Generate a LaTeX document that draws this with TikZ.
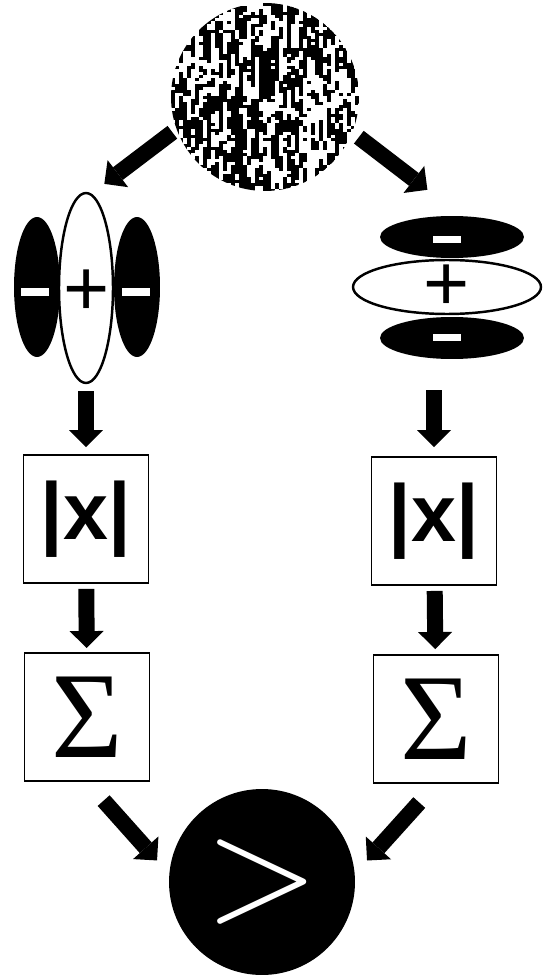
\documentclass[tikz,border=0pt]{standalone}
\usepackage{fontspec}
\newfontfamily\sansfont{Liberation Sans}
\newfontfamily\seriffont{Liberation Serif}
\usetikzlibrary{positioning,shapes.geometric,arrows.meta}

\begin{document}
\begin{tikzpicture}[x=0.02cm, y=-0.02cm,
  fatarrow/.style={line width=0.32cm, -{Triangle[length=0.34cm, width=0.68cm, line width=0pt]}},
  lobe/.style={ellipse, fill=black, inner sep=0pt},
  core/.style={ellipse, draw, line width=1.4pt, fill=white, inner sep=0pt},
  bar/.style={fill=white, inner sep=0pt, minimum width=0.56cm, minimum height=0.16cm},
  plus/.style={inner sep=0pt, font=\sansfont\fontsize{45}{45}\selectfont},
  opbox/.style={draw, line width=1.1pt, minimum width=2.5cm, minimum height=2.56cm, inner sep=0pt}]
\useasboundingbox (0,0) rectangle (543,976);
% source
\node[circle, minimum size=3.76cm, inner sep=0pt] (noise) at (265,97) {};
\begin{scope}
\clip (265,97) circle [radius=94];
\pgfmathsetseed{11}
\xdef\prev{0}
\foreach \i in {0,...,47} {
  \foreach \j in {0,...,63} {
    \ifnum\prev=1 \pgfmathtruncatemacro{\flip}{rnd<0.2}\else\pgfmathtruncatemacro{\flip}{rnd<0.26}\fi
    \ifnum\flip=1 \pgfmathtruncatemacro{\nb}{1-\prev}\xdef\prev{\nb}\fi
    \ifnum\prev=1 \fill (171+4*\i, 3+3*\j) rectangle ++(4,3); \fi
  }
}
\end{scope}
% left filter
\node[lobe, minimum width=0.92cm, minimum height=2.8cm] (lfa) at (37,287) {};
\node[lobe, minimum width=0.92cm, minimum height=2.8cm] (lfb) at (137,287) {};
\node[core, minimum width=1.08cm, minimum height=3.8cm] (lf) at (86,288) {};
\node[bar] (lma) at (35,292) {};
\node[bar] (lmb) at (136,292) {};
\node[plus] (lp) at (87,293) {+};
% right filter
\node[lobe, minimum width=2.88cm, minimum height=0.84cm] (rfa) at (452,237) {};
\node[lobe, minimum width=2.88cm, minimum height=0.84cm] (rfb) at (452,338) {};
\node[core, minimum width=3.76cm, minimum height=1.08cm] (rf) at (447,287) {};
\node[bar, minimum height=0.14cm] (rma) at (447,240) {};
\node[bar, minimum height=0.14cm] (rmb) at (447,337) {};
\node[plus] (rp) at (447,288) {+};
% magnitude
\node[opbox, font=\sansfont\bfseries\fontsize{46}{46}\selectfont] (lx) at (86,519) {|x|};
\node[opbox, font=\sansfont\bfseries\fontsize{46}{46}\selectfont] (rx) at (434,521) {|x|};
% sum
\node[opbox, font=\seriffont\fontsize{70}{70}\selectfont] (ls) at (87,717) {Σ};
\node[opbox, font=\seriffont\fontsize{70}{70}\selectfont] (rs) at (436,719) {Σ};
% comparator
\node[circle, fill=black, minimum size=3.72cm, inner sep=0pt, text=white] (cmp) at (262,882) {\scalebox{8.3}{$>$}};

\draw[fatarrow, shorten <=0.1cm, shorten >=0.46cm] (noise.200) -- ([shift={(0,6)}]lf.north);
\draw[fatarrow, shorten <=0.16cm, shorten >=0.62cm] (noise.-22) -- ([shift={(0,-7)}]rfa.north);
\draw[fatarrow, shorten <=0.14cm, shorten >=0.14cm] (lf.south) -- (lx.north);
\draw[fatarrow, shorten <=0.62cm, shorten >=0.18cm] (rfb.south -| rx.north) -- (rx.north);
\draw[fatarrow, shorten <=0.1cm, shorten >=0.08cm] (lx) -- (ls);
\draw[fatarrow, shorten <=0.1cm, shorten >=0.1cm] (rx) -- (rs);
\draw[fatarrow, shorten <=0.5cm, shorten >=0.36cm] (ls.south) -- (cmp.175);
\draw[fatarrow, shorten <=0.5cm, shorten >=0.36cm] (rs.south) -- (cmp.5);
\end{tikzpicture}
\end{document}
